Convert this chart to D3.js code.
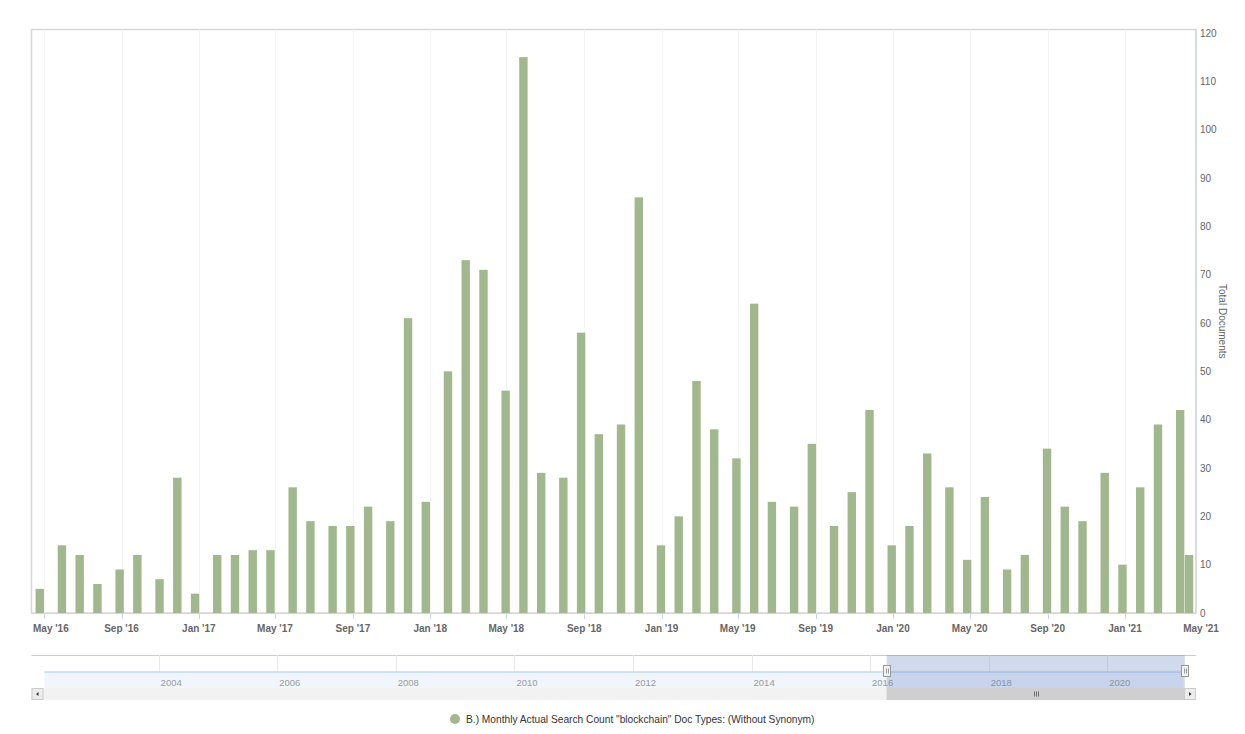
<!DOCTYPE html>
<html><head><meta charset="utf-8">
<script src="https://cdn.jsdelivr.net/npm/d3@7"></script>
<style>
body{margin:0;background:#fff;}
text{font-family:"Liberation Sans",Arial,Helvetica,sans-serif;}
</style>
</head><body>
<svg id="chart" width="1245" height="734"></svg>
<script>
// ---------- DATA ----------
const dates = [
"2016-04-25","2016-05-30","2016-06-27","2016-07-25","2016-08-29","2016-09-26","2016-10-31","2016-11-28","2016-12-26",
"2017-01-30","2017-02-27","2017-03-27","2017-04-24","2017-05-29","2017-06-26","2017-07-31","2017-08-28","2017-09-25","2017-10-30","2017-11-27","2017-12-25",
"2018-01-29","2018-02-26","2018-03-26","2018-04-30","2018-05-28","2018-06-25","2018-07-30","2018-08-27","2018-09-24","2018-10-29","2018-11-26","2018-12-31",
"2019-01-28","2019-02-25","2019-03-25","2019-04-29","2019-05-27","2019-06-24","2019-07-29","2019-08-26","2019-09-30","2019-10-28","2019-11-25","2019-12-30",
"2020-01-27","2020-02-24","2020-03-30","2020-04-27","2020-05-25","2020-06-29","2020-07-27","2020-08-31","2020-09-28","2020-10-26","2020-11-30","2020-12-28",
"2021-01-25","2021-02-22","2021-03-29","2021-04-12"];
const values = [
5,14,12,6,9,12,7,28,4,
12,12,13,13,26,19,18,18,22,19,61,23,
50,73,71,46,115,29,28,58,37,39,86,14,
20,48,38,32,64,23,22,35,18,25,42,14,
18,33,26,11,24,9,12,34,22,19,29,10,
26,39,42,12];
const yTicks = [0,10,20,30,40,50,60,70,80,90,100,110,120];
const xTickDates = ["2016-05-01","2016-09-01","2017-01-01","2017-05-01","2017-09-01","2018-01-01","2018-05-01","2018-09-01",
"2019-01-01","2019-05-01","2019-09-01","2020-01-01","2020-05-01","2020-09-01","2021-01-01","2021-05-01"];
const navYears = [2004,2006,2008,2010,2012,2014,2016,2018,2020];
const xExtent = ["2016-04-12","2021-04-23"];
const navExtent = ["2002-01-28","2021-04-12"];
const navSeries = [{date:"2002-01-28", v:0},{date:"2021-04-12", v:0}];
const seriesName = 'B.) Monthly Actual Search Count "blockchain" Doc Types: (Without Synonym)';
const yTitle = "Total Documents";

// ---------- LAYOUT ----------
const L = 31.5, R = 1196, T = 29.5, B = 613;
const NT = 655, NB = 688, SB = 700, BTN = 13;
const barColor = "#a1b88e";
const parse = d3.timeParse("%Y-%m-%d");
const fmt = d3.timeFormat("%b '%y");

const svg = d3.select("#chart");

const x = d3.scaleTime().domain(xExtent.map(parse)).range([L, R]);
const y = d3.scaleLinear().domain([0, 120]).range([B, 33]);

// plot border
svg.append("rect").attr("x", L).attr("y", T).attr("width", R - L).attr("height", B - T)
  .attr("fill", "none").attr("stroke", "#d8d8d8").attr("stroke-width", 1.5);

const xt = xTickDates.map(parse);
// vertical grid lines
svg.append("g").selectAll("line").data(xt.filter(d => x(d) >= L && x(d) <= R)).join("line")
  .attr("x1", d => Math.round(x(d)) + 0.5).attr("x2", d => Math.round(x(d)) + 0.5)
  .attr("y1", T).attr("y2", B).attr("stroke", "#f4f4f4").attr("stroke-width", 1);

// bars
const bw = 8.4;
const data = dates.map((d, i) => ({date: parse(d), v: values[i]}));
svg.append("g").selectAll("rect").data(data).join("rect")
  .attr("x", d => x(d.date) - bw / 2).attr("width", bw)
  .attr("y", d => y(d.v)).attr("height", d => B - y(d.v))
  .attr("fill", barColor);

// x axis line
svg.append("line").attr("x1", L).attr("x2", R).attr("y1", B + 0.5).attr("y2", B + 0.5)
  .attr("stroke", "#ccd6eb");
// y axis line (right)
svg.append("line").attr("x1", R).attr("x2", R).attr("y1", T).attr("y2", B)
  .attr("stroke", "#ccd6eb");

// x ticks
svg.append("g").selectAll("line").data(xt.filter(d => x(d) >= L && x(d) <= R)).join("line")
  .attr("x1", d => Math.round(x(d)) + 0.5).attr("x2", d => Math.round(x(d)) + 0.5)
  .attr("y1", B).attr("y2", B + 6).attr("stroke", "#ccd6eb");

// x labels
const xl = svg.append("g").selectAll("text").data(xt).join("text")
  .attr("x", d => x(d)).attr("y", 632)
  .attr("text-anchor", "middle")
  .attr("font-size", "10px").attr("font-weight", "bold").attr("fill", "#666")
  .text(d => fmt(d));
xl.each(function(d) {
  const w = this.getComputedTextLength();
  if (x(d) - w / 2 < L + 1) {
    d3.select(this).attr("text-anchor", "start").attr("x", L + 1.5);
  }
});

// y labels
svg.append("g").selectAll("text").data(yTicks).join("text")
  .attr("x", 1200).attr("y", d => y(d)).attr("dy", "0.35em")
  .attr("font-size", "10px").attr("fill", "#666")
  .text(d => d);

// y title
svg.append("text").attr("transform", `translate(1219,${(T + B) / 2}) rotate(90)`)
  .attr("text-anchor", "middle").attr("font-size", "10px").attr("fill", "#666")
  .text(yTitle);

// ---------- NAVIGATOR ----------
const xn = d3.scaleTime().domain(navExtent.map(parse)).range([L + BTN, R - BTN]);
const yn = d3.scaleLinear().domain([-1, 1]).range([NB, NT]);

svg.append("line").attr("x1", L).attr("x2", R).attr("y1", NT + 0.5).attr("y2", NT + 0.5)
  .attr("stroke", "#cccccc");

// nav grid + labels
const ny = navYears.map(yy => new Date(yy, 0, 1));
svg.append("g").selectAll("line").data(ny).join("line")
  .attr("x1", d => Math.round(xn(d)) + 0.5).attr("x2", d => Math.round(xn(d)) + 0.5)
  .attr("y1", NT).attr("y2", NB).attr("stroke", "#e9e9e9");

// nav series area + line
const navPts = navSeries.map(p => ({date: parse(p.date), v: p.v}));
svg.append("path").datum(navPts)
  .attr("d", d3.area().x(d => xn(d.date)).y0(NB).y1(d => yn(d.v)))
  .attr("fill", "#f1f6fc");
svg.append("path").datum(navPts)
  .attr("d", d3.line().x(d => xn(d.date)).y(d => yn(d.v) + 0.5))
  .attr("fill", "none").attr("stroke", "#a9c9ee").attr("stroke-width", 1.2);

svg.append("g").selectAll("text").data(ny).join("text")
  .attr("x", d => xn(d) + 2).attr("y", 686)
  .attr("font-size", "9.5px").attr("fill", "#9a9a9a")
  .text(d => d.getFullYear());

// mask
const m0 = xn(parse(xExtent[0])), m1 = xn(parse(xExtent[1]));
svg.append("rect").attr("x", m0).attr("y", NT).attr("width", m1 - m0).attr("height", NB - NT)
  .attr("fill", "rgba(102,133,194,0.3)");

// scrollbar
svg.append("rect").attr("x", L).attr("y", NB).attr("width", R - L).attr("height", SB - NB)
  .attr("fill", "#f2f2f2");
svg.append("rect").attr("x", m0).attr("y", NB).attr("width", m1 - m0).attr("height", SB - NB)
  .attr("fill", "#cfcfcf");
const gx = (m0 + m1) / 2;
[-2, 0, 2].forEach(o => {
  svg.append("line").attr("x1", Math.round(gx) + o + 0.5).attr("x2", Math.round(gx) + o + 0.5)
    .attr("y1", NB + 3.5).attr("y2", SB - 3.5).attr("stroke", "#555").attr("stroke-width", 0.8);
});
// buttons
[[L, -1], [R - BTN + 1, 1]].forEach(([bx, dir]) => {
  svg.append("rect").attr("x", bx + 0.5).attr("y", NB + 0.5).attr("width", BTN - 2).attr("height", SB - NB - 1)
    .attr("fill", "#ececec").attr("stroke", "#cccccc");
  const cx = bx + (BTN - 1) / 2, cy = (NB + SB) / 2;
  svg.append("path")
    .attr("d", dir < 0 ? `M${cx + 1},${cy - 2}L${cx - 1.5},${cy}L${cx + 1},${cy + 2}Z`
                       : `M${cx - 1},${cy - 2}L${cx + 1.5},${cy}L${cx - 1},${cy + 2}Z`)
    .attr("fill", "#333");
});

// handles
[m0, m1].forEach(hx => {
  svg.append("rect").attr("x", Math.round(hx) - 3.5).attr("y", 665.5).attr("width", 7).attr("height", 11)
    .attr("fill", "#f2f2f2").attr("stroke", "#999").attr("stroke-width", 1);
  [-1, 1].forEach(o => {
    svg.append("line").attr("x1", Math.round(hx) + o + 0.5).attr("x2", Math.round(hx) + o + 0.5)
      .attr("y1", 668.5).attr("y2", 673.5).attr("stroke", "#999");
  });
});

// ---------- LEGEND ----------
svg.append("circle").attr("cx", 455).attr("cy", 719).attr("r", 5).attr("fill", barColor);
svg.append("text").attr("x", 466).attr("y", 722.5).attr("font-size", "10.2px").attr("fill", "#333")
  .text(seriesName);
</script>
</body></html>
